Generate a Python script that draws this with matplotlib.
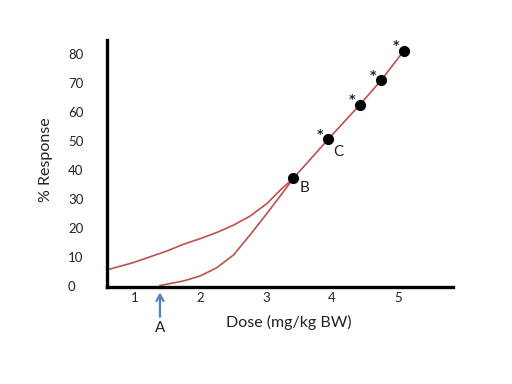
import matplotlib.pyplot as plt
import matplotlib as mpl

mpl.rcParams['font.family'] = ['Lato', 'DejaVu Sans']
mpl.rcParams['figure.facecolor'] = 'white'
mpl.rcParams['axes.facecolor'] = 'white'

# curves
upper_x = [0.57, 0.97, 1.48, 1.74, 1.99, 2.24, 2.50, 2.75, 3.01, 3.21, 3.41]
upper_y = [5.4, 7.9, 11.9, 14.3, 16.2, 18.3, 20.9, 24.0, 28.4, 33.0, 37.1]
lower_x = [1.38, 1.74, 1.99, 2.24, 2.50, 2.75, 3.01, 3.26, 3.41]
lower_y = [0.0, 1.6, 3.3, 6.1, 10.6, 17.5, 25.0, 32.5, 37.1]
# measured points (B, C and the three above)
pts_x = [3.41, 3.94, 4.42, 4.75, 5.09]
pts_y = [37.1, 50.6, 62.5, 71.1, 81.2]
starred = [False, True, True, True, True]
x_ticks = [1, 2, 3, 4, 5]
y_ticks = [0, 10, 20, 30, 40, 50, 60, 70, 80]
dose_A = 1.38

red = '#BE504D'
blue = '#4F81BD'
txt = '#222222'

fig = plt.figure(figsize=(5.12, 3.84), dpi=100)
ax = fig.add_axes([0.209, 0.2534, 0.676, 0.6424])

ax.plot(upper_x + pts_x[1:], upper_y + pts_y[1:], color=red, linewidth=1.2,
        solid_joinstyle='round', zorder=2)
ax.plot(lower_x, lower_y, color=red, linewidth=1.2, solid_joinstyle='round', zorder=2)
ax.plot(pts_x, pts_y, 'o', color='black', markersize=7, zorder=3)

for x, y, s in zip(pts_x, pts_y, starred):
    if s:
        ax.annotate('*', (x, y), xytext=(-5.8, 1), textcoords='offset points',
                    ha='center', va='baseline', fontsize=9, fontweight='bold',
                    family='DejaVu Sans', color=txt)

ax.annotate('B', (pts_x[0], pts_y[0]), xytext=(8, -7), textcoords='offset points',
            ha='center', va='center', fontsize=11, color=txt)
ax.annotate('C', (pts_x[1], pts_y[1]), xytext=(7.5, -9), textcoords='offset points',
            ha='center', va='center', fontsize=11, color=txt)

# arrow A below the axis
ax.annotate('', xy=(dose_A, -2.4), xytext=(dose_A, -10.8), annotation_clip=False,
            arrowprops=dict(arrowstyle='->,head_length=0.45,head_width=0.25',
                            color=blue, lw=1.6, shrinkA=0, shrinkB=0))
ax.text(dose_A, -14.8, 'A', ha='center', va='center', fontsize=11, color=txt, clip_on=False)

ax.set_xlim(0.574, 5.84)
ax.set_ylim(-0.4, 84.9)
ax.set_xticks(x_ticks)
ax.set_yticks(y_ticks)
ax.tick_params(axis='x', length=0, pad=3.5, labelsize=9.5, labelcolor=txt)
ax.tick_params(axis='y', length=0, pad=28, labelsize=9.5, labelcolor=txt)
for lab in ax.get_yticklabels():
    lab.set_ha('left')

ax.set_xlabel('Dose (mg/kg BW)', fontsize=11.5, color=txt)
ax.xaxis.set_label_coords(0.524, -0.143)
ax.xaxis.label.set_va('center')
ax.set_ylabel('% Response', fontsize=11.5, color=txt)
ax.yaxis.set_label_coords(-0.175, 0.514)
ax.yaxis.label.set_va('center')

for side in ['top', 'right']:
    ax.spines[side].set_visible(False)
for side in ['left', 'bottom']:
    ax.spines[side].set_linewidth(2.4)
    ax.spines[side].set_color('black')
    ax.spines[side].set_capstyle('projecting')

plt.savefig('out.png', dpi=100)
